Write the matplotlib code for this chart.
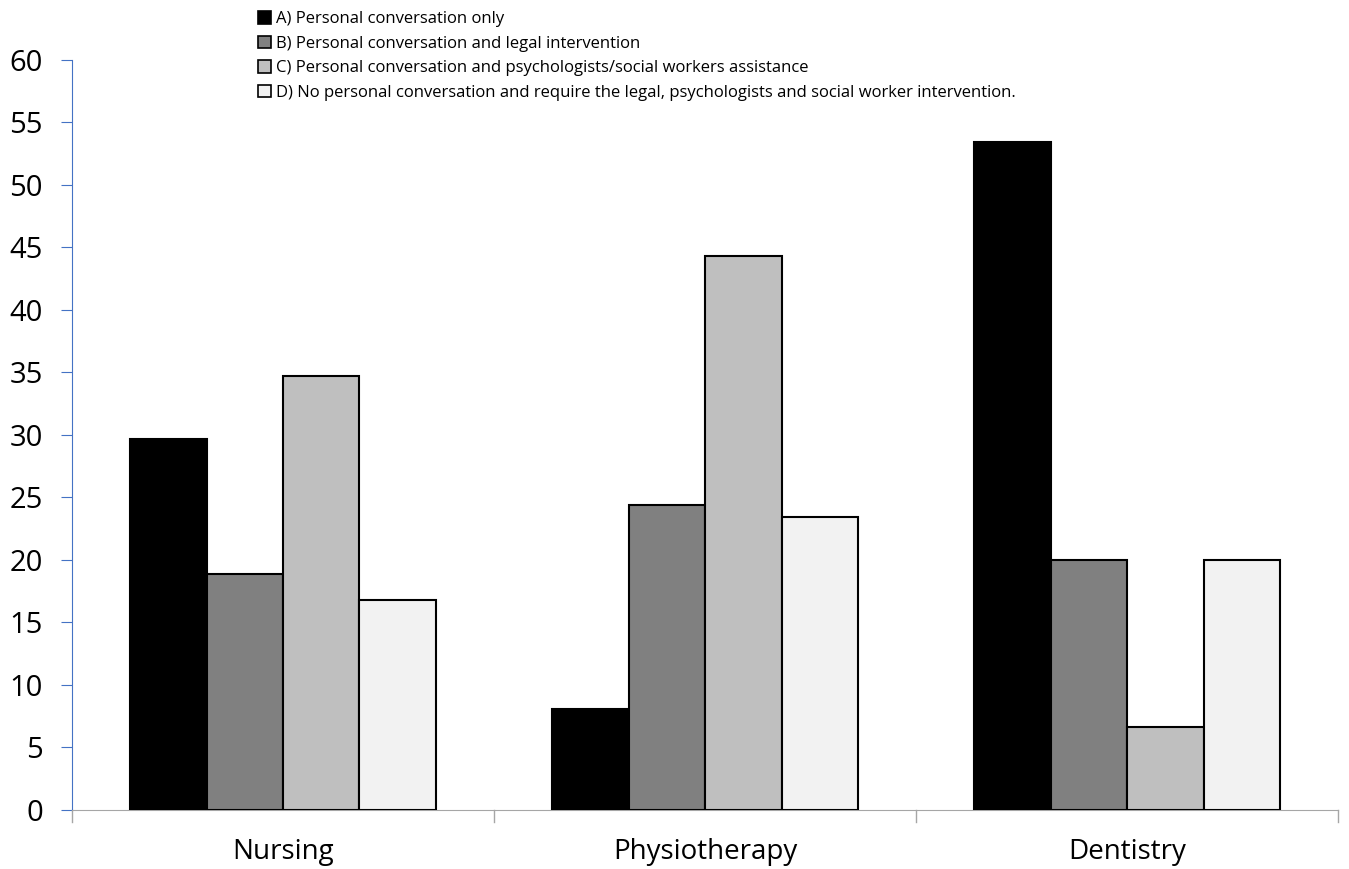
import numpy as np
import matplotlib.pyplot as plt
from matplotlib.patches import Patch

## data
categories = ['Nursing', 'Physiotherapy', 'Dentistry']
series_labels = ['A) Personal conversation only',
                 'B) Personal conversation and legal intervention',
                 'C) Personal conversation and psychologists/social workers assistance',
                 'D) No personal conversation and require the legal, psychologists and social worker intervention.']
val_A = [29.7, 8.1, 53.4]
val_B = [18.9, 24.4, 20.0]
val_C = [34.7, 44.3, 6.6]
val_D = [16.8, 23.4, 20.0]
yticks = [0, 5, 10, 15, 20, 25, 30, 35, 40, 45, 50, 55, 60]

colors = ['#000000', '#808080', '#bfbfbf', '#f2f2f2']
plt.rcParams['font.family'] = ['Open Sans', 'DejaVu Sans']

fig = plt.figure(figsize=(13.49, 8.69), dpi=100)
ax = fig.add_axes([0.0534, 0.0679, 0.9386, 0.8631])

x = np.arange(len(categories))
w = 0.181
all_vals = [val_A, val_B, val_C, val_D]
for i in range(0, 4):
    ax.bar(x + (i - 1.5) * w, all_vals[i], w, color=colors[i],
           edgecolor='black', linewidth=1.5, zorder=3)

ax.set_xlim(-0.5, 2.5)
ax.set_ylim(0, 60)
ax.set_yticks(yticks)
ax.tick_params(axis='y', labelsize=21, length=8, color='#4472c4', direction='out', pad=13)
ax.set_xticks(x)
ax.set_xticklabels(categories, fontsize=20)
ax.tick_params(axis='x', length=0, pad=20)
## category separator ticks
for b in [-0.5, 0.5, 1.5, 2.5]:
    ax.plot([b, b], [0, -0.016], transform=ax.get_xaxis_transform(),
            color='#a6a6a6', lw=1, clip_on=False)

ax.spines['top'].set_visible(False)
ax.spines['right'].set_visible(False)
ax.spines['left'].set_color('#4472c4')
ax.spines['bottom'].set_color('#a6a6a6')

handles = [Patch(facecolor=colors[i], edgecolor='black', linewidth=1.2) for i in range(0, 4)]
fig.legend(handles, series_labels, loc='upper left', bbox_to_anchor=(0.186, 0.995),
           frameon=False, fontsize=12, handlelength=0.8, handleheight=0.8,
           handletextpad=0.3, labelspacing=0.5, borderaxespad=0)

fig.savefig('out.png', dpi=100)
